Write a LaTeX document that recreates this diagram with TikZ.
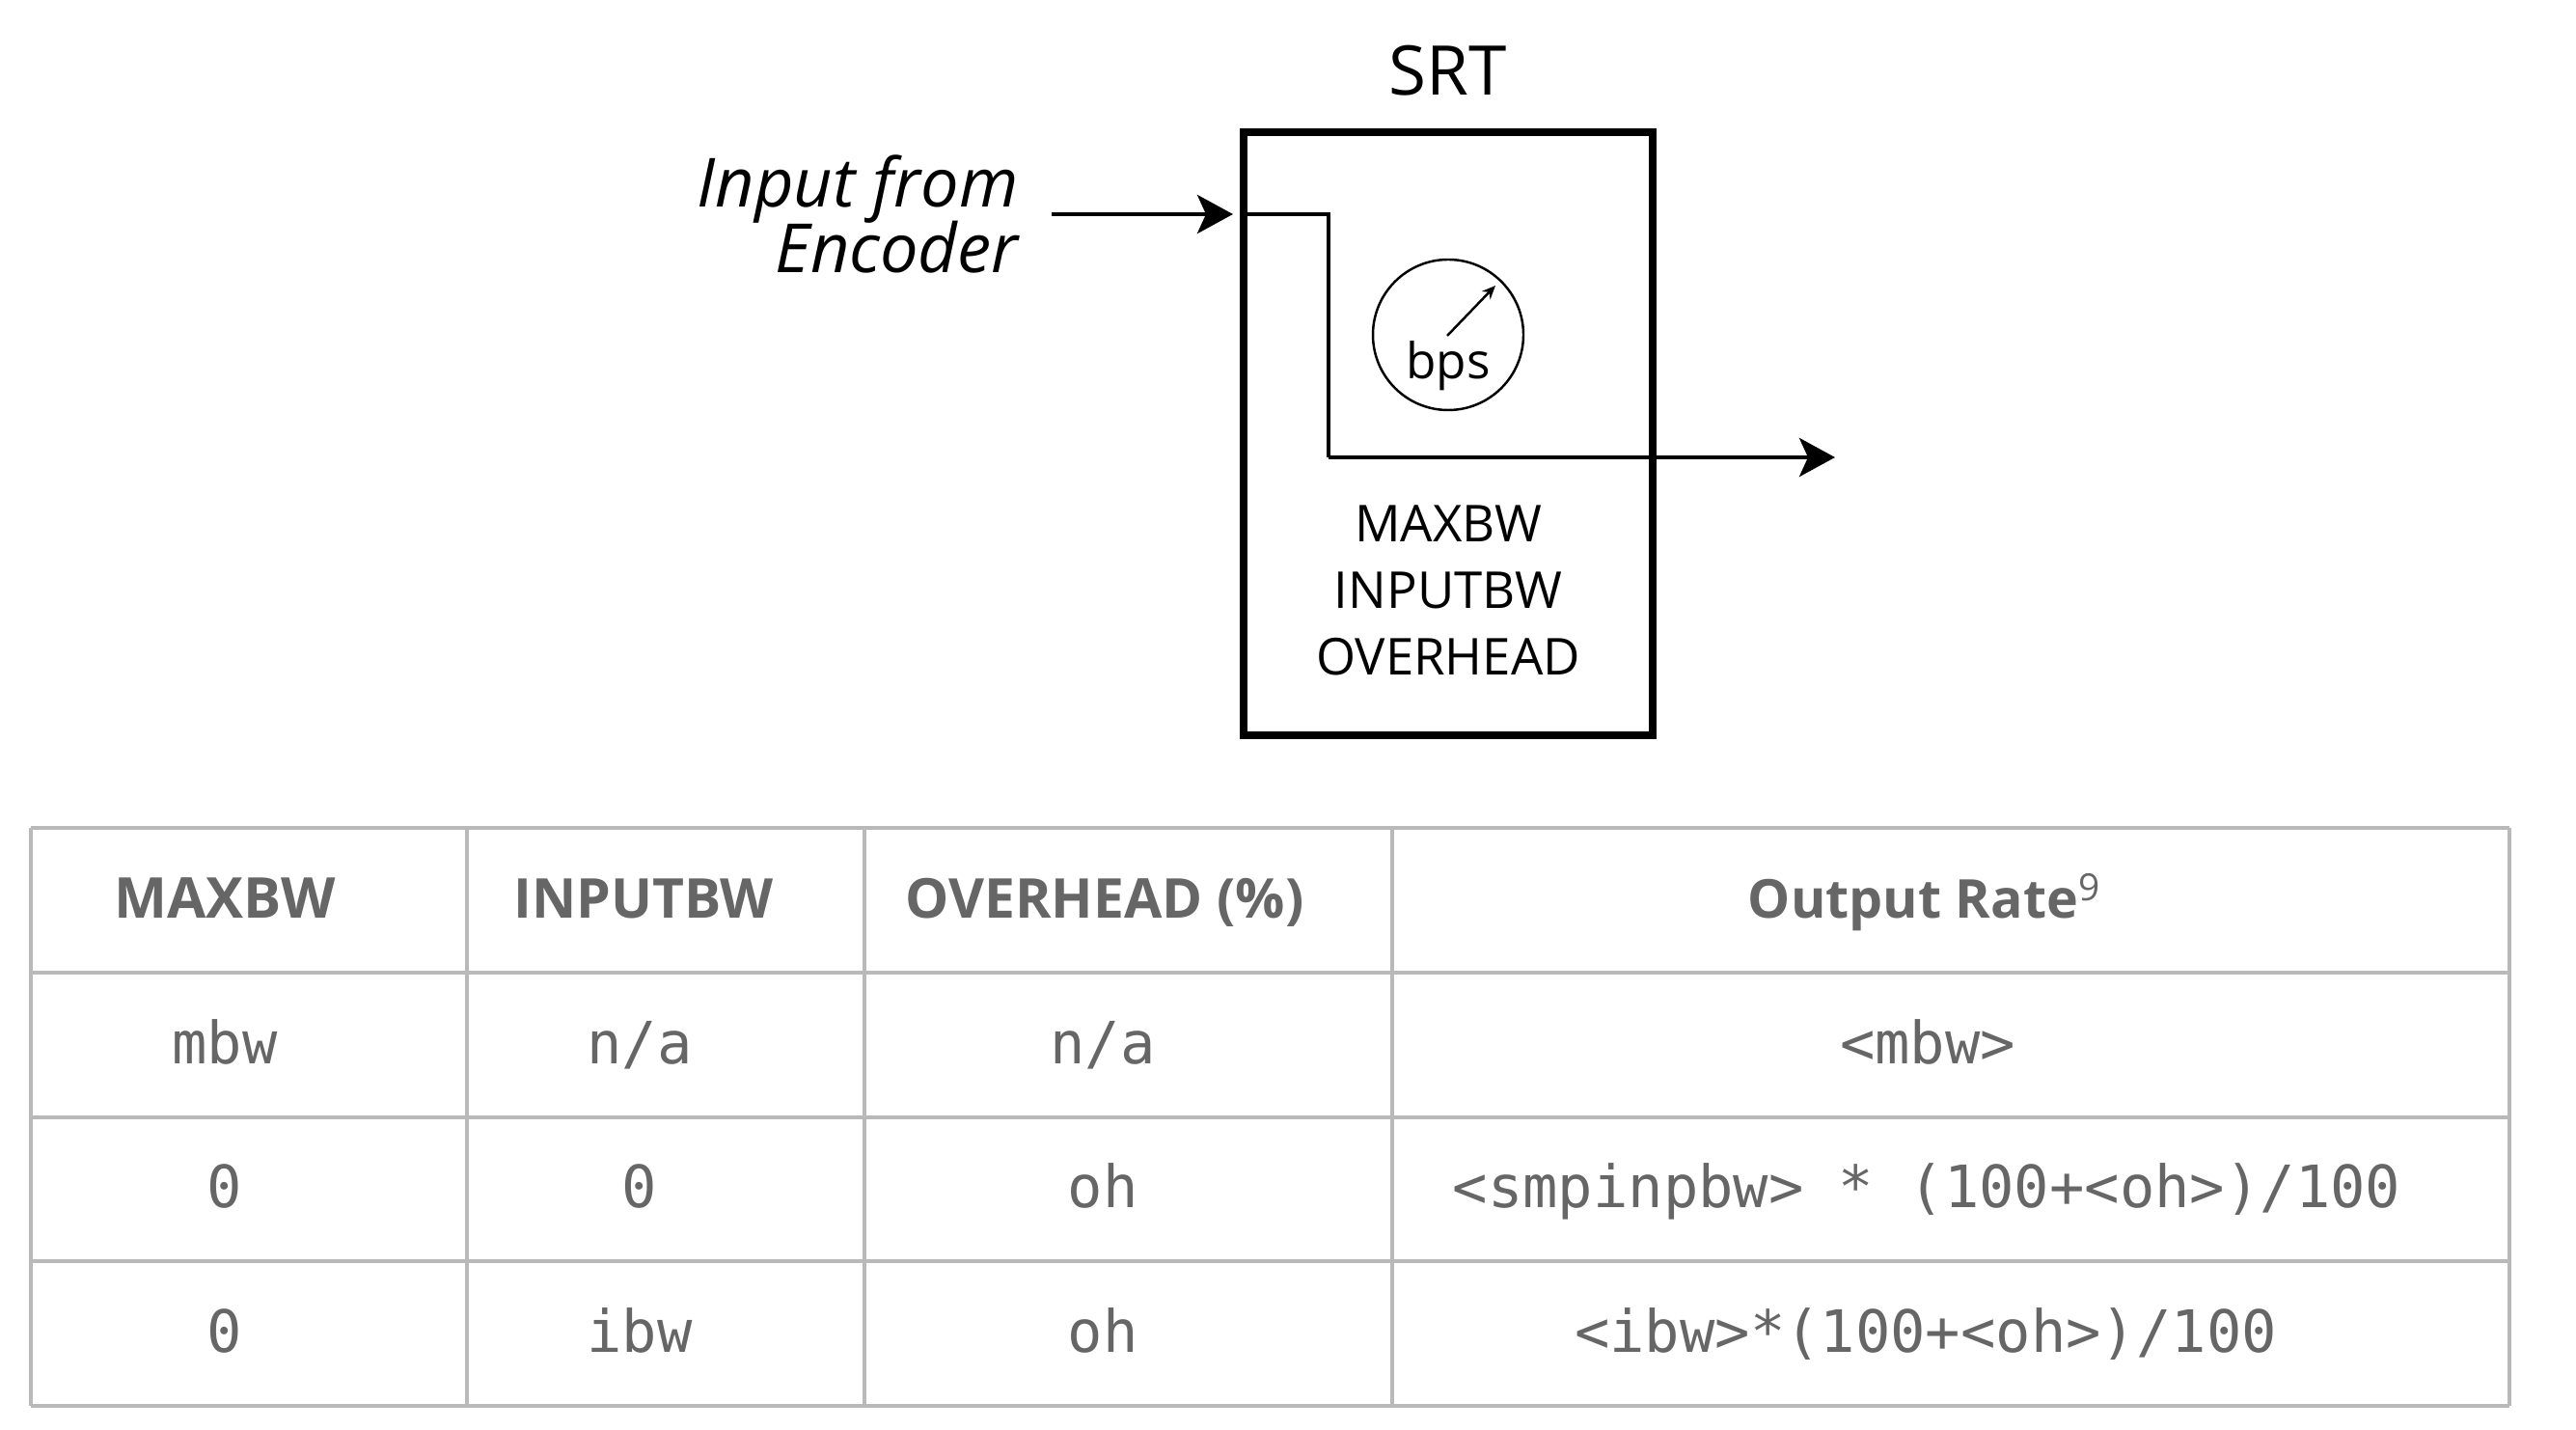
\documentclass[tikz,border=0pt]{standalone}
\usepackage{fontspec}
\setmainfont{Open Sans}
\setmonofont{DejaVu Sans Mono}
\usetikzlibrary{arrows.meta, positioning}

\definecolor{tabletext}{HTML}{666666}
\definecolor{tablerule}{HTML}{B9B9B9}

\begin{document}
\begin{tikzpicture}[
  node distance=0.32cm and 0.38cm,
  unit/.style={rectangle, draw, line width=2.2pt, minimum width=4.24cm, minimum height=6.25cm},
  title/.style={font=\fontsize{20.2}{24}\selectfont, inner sep=0pt},
  side/.style={font=\fontsize{20}{18.9}\selectfont\itshape, align=right, inner sep=0pt},
  param/.style={font=\fontsize{15}{19.6}\selectfont, align=center, inner sep=0pt},
  meter/.style={circle, draw, line width=0.7pt, minimum size=1.56cm, inner sep=0pt},
  flow/.style={line width=1.4pt, -{Stealth[length=0.37cm, width=0.40cm, inset=0.09cm]}},
  wire/.style={line width=1.4pt},
  head/.style={font=\fontsize{16.2}{20}\selectfont\bfseries, text=tabletext, inner sep=0pt, anchor=base},
  cell/.style={font=\fontsize{17.2}{20}\selectfont\ttfamily, text=tabletext, inner sep=0pt, anchor=base},
  rule/.style={tablerule, line width=1.4pt}
]
\useasboundingbox (0,0) rectangle (26.70,-14.82);

% SRT block
\node[unit] (srt) at (15.01,-4.495) {};
\node[title, above=0.33cm of srt] (srttitle) {SRT};
\node[param, anchor=south] (params) at (15.01,-7.01) {MAXBW\\INPUTBW\\OVERHEAD};
\node[meter] (gauge) at (15.01,-3.47) {};
\node[font=\fontsize{14.6}{18}\selectfont, inner sep=0pt] (bps) at (15.01,-3.79) {bps};
\coordinate (needle) at (15.00,-3.48);
\coordinate (needletip) at (15.50,-2.96);
\draw[line width=0.7pt, -{Stealth[length=0.14cm, width=0.12cm]}] (needle) -- (needletip);

% input and output
\coordinate (instart) at (10.90,-2.22);
\coordinate (inport) at (12.87,-2.22);
\coordinate (bend) at (13.77,-4.74);
\coordinate (outend) at (19.02,-4.74);
\node[side, anchor=east] (input) at (10.56,-2.22) {Input from\\[-1.4pt]Encoder};
\draw[flow, shorten >=0.09cm] (instart) -- (inport);
\draw[wire] (inport) -| (bend);
\draw[flow] (bend) -- (outend);

% table rules
\foreach \y in {-8.58,-10.08,-11.58,-13.07,-14.57}
  \draw[rule] (0.32,\y) -- (26.01,\y);
\foreach \x in {0.32,4.84,8.96,14.43,26.01}
  \draw[rule] (\x,-8.58) -- (\x,-14.57);

% table header
\node[head, font=\fontsize{16.6}{20}\selectfont\bfseries] (h1) at (2.33,-9.52) {MAXBW};
\node[head] (h2) at (6.67,-9.52) {INPUTBW};
\node[head] (h3) at (11.45,-9.52) {OVERHEAD (\%)};
\node[head, font=\fontsize{15.8}{20}\selectfont\bfseries] (h4) at (19.95,-9.52) {Output Rate\textsuperscript{\normalfont 9}};

% table rows
\node[cell] (a1) at (2.33,-11.03) {mbw};
\node[cell] (a2) at (6.63,-11.03) {n/a};
\node[cell] (a3) at (11.43,-11.03) {n/a};
\node[cell] (a4) at (19.98,-11.03) {<mbw>};
\node[cell] (b1) at (2.33,-12.52) {0};
\node[cell] (b2) at (6.63,-12.52) {0};
\node[cell] (b3) at (11.43,-12.52) {oh};
\node[cell] (b4) at (19.97,-12.52) {<smpinpbw> * (100+<oh>)/100};
\node[cell] (c1) at (2.33,-14.02) {0};
\node[cell] (c2) at (6.63,-14.02) {ibw};
\node[cell] (c3) at (11.43,-14.02) {oh};
\node[cell] (c4) at (19.96,-14.02) {<ibw>*(100+<oh>)/100};

\end{tikzpicture}
\end{document}
